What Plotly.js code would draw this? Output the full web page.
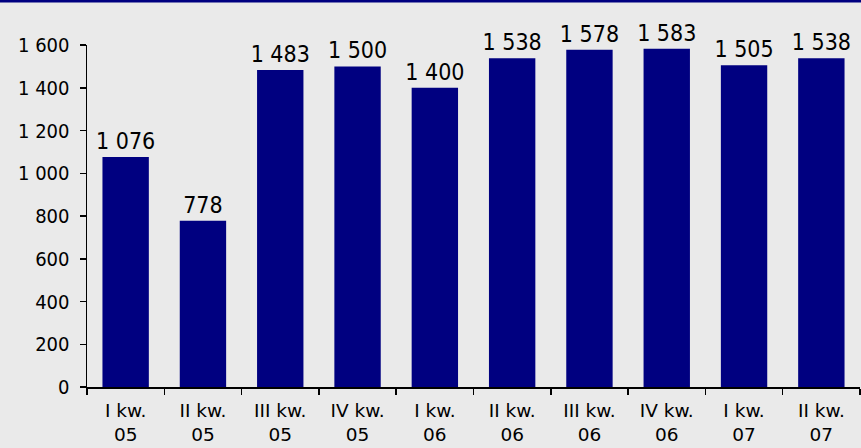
<!DOCTYPE html>
<html>
<head>
<meta charset="utf-8">
<script src="https://cdn.plot.ly/plotly-3.0.1.min.js"></script>
<style>
html,body{margin:0;padding:0;background:#eaeaea;}
#chart{width:861px;height:448px;}
</style>
</head>
<body>
<div id="chart"></div>
<script>
var categories = ["I kw.<br>05","II kw.<br>05","III kw.<br>05","IV kw.<br>05","I kw.<br>06","II kw.<br>06","III kw.<br>06","IV kw.<br>06","I kw.<br>07","II kw.<br>07"];
var values = [1076, 778, 1483, 1500, 1400, 1538, 1578, 1583, 1505, 1538];
var yTicks = [0, 200, 400, 600, 800, 1000, 1200, 1400, 1600];

function fmt(v){ return String(v).replace(/\B(?=(\d{3})+(?!\d))/g, ' '); }

var FONT = "'DejaVu Sans Condensed', 'DejaVu Sans', sans-serif";
var XFONT = "'DejaVu Sans', sans-serif";
var plotTop = 45, plotH = 342;

var trace = {
  type: 'bar',
  x: categories,
  y: values,
  text: values.map(fmt),
  textposition: 'outside',
  constraintext: 'none',
  cliponaxis: false,
  textfont: {family: FONT, size: 23, color: '#000000'},
  marker: {color: '#000080', line: {width: 0}},
  hoverinfo: 'none'
};

var layout = {
  width: 861, height: 448,
  margin: {l: 87, r: 1, t: plotTop, b: 61},
  paper_bgcolor: '#eaeaea',
  plot_bgcolor: '#eaeaea',
  bargap: 0.4,
  showlegend: false,
  font: {family: FONT, size: 18, color: '#000000'},
  xaxis: {
    type: 'category',
    showgrid: false, zeroline: false,
    showline: true, linecolor: '#000000', linewidth: 1.5,
    ticks: 'outside', ticklen: 6, tickwidth: 1.5, tickcolor: '#000000',
    tickson: 'boundaries',
    ticklabelstandoff: 6,
    tickfont: {family: XFONT, size: 18.5, color: '#000000'}
  },
  yaxis: {
    range: [0, 1600],
    showgrid: false, zeroline: false,
    showline: true, linecolor: '#000000', linewidth: 1.5,
    ticks: 'outside', ticklen: 6, tickwidth: 1.5, tickcolor: '#000000',
    tickvals: yTicks,
    ticktext: yTicks.map(fmt),
    ticklabelstandoff: 6,
    tickfont: {family: FONT, size: 20, color: '#000000'}
  },
  shapes: [{
    type: 'rect', xref: 'paper', yref: 'paper',
    x0: -0.2, x1: 1.1,
    y0: 1 + (plotTop - 2.5) / plotH, y1: 1 + (plotTop + 5) / plotH,
    fillcolor: '#000080', line: {width: 0}, layer: 'above'
  }]
};

Plotly.newPlot('chart', [trace], layout, {displayModeBar: false, staticPlot: true});
</script>
</body>
</html>
